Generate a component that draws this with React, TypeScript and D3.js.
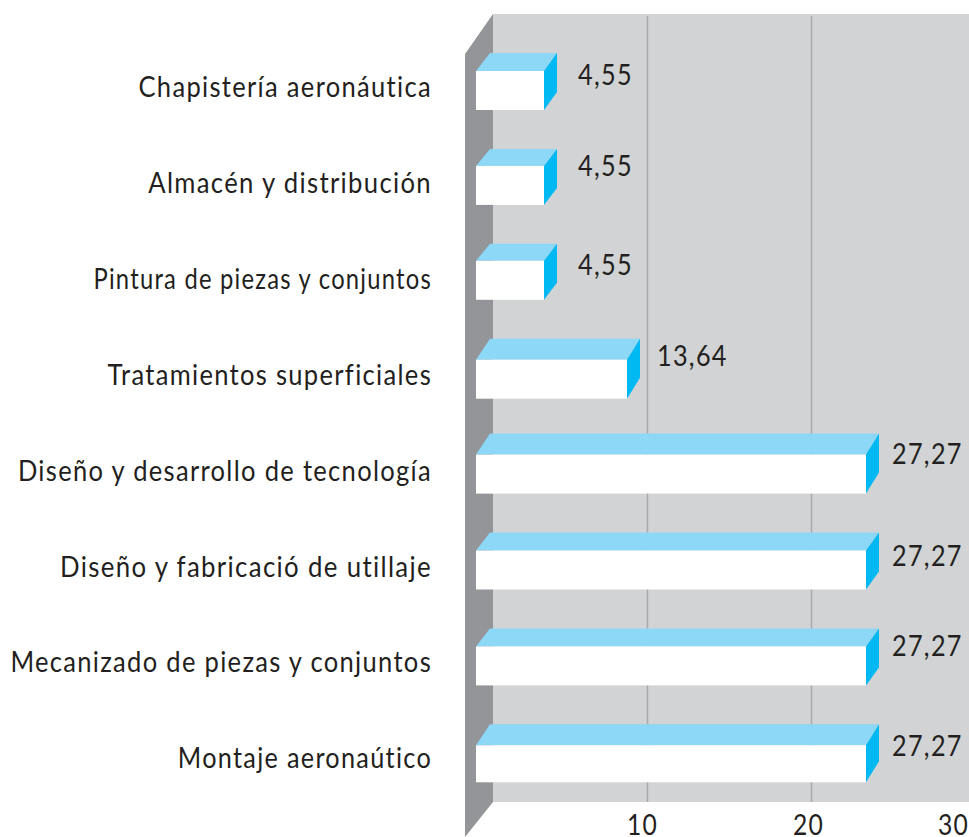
import React, { useRef, useEffect } from 'react';
import * as d3 from 'd3';

const categories = [
  'Chapistería aeronáutica',
  'Almacén y distribución',
  'Pintura de piezas y conjuntos',
  'Tratamientos superficiales',
  'Diseño y desarrollo de tecnología',
  'Diseño y fabricació de utillaje',
  'Mecanizado de piezas y conjuntos',
  'Montaje aeronaútico',
];
const values = [4.55, 4.55, 4.55, 13.64, 27.27, 27.27, 27.27, 27.27];
const axisTicks = [10, 20, 30];

const FONT = 'Lato, sans-serif';
const TEXT = '#231f20';

// hand-drawn look of the original: bars are not quite even
const topDepth = [18, 17, 17, 21, 21, 18, 18, 21];
const frontHeight = [39, 39, 39, 39, 39, 39, 39, 37];
const yNudge = [0, 0, -1, -2, -3, 0, 0, 0];
const valueBaseline = [85, 176, 275, 366, 464, 566, 656, 756];
const valueGap = [34, 34, 34, 30, 26, 26, 26, 26];
const tickNudge = [-5, -3, -22];
// no condensed face is installed, so the labels are squeezed sideways
const labelSqueeze = [0.88, 0.885, 0.82, 0.88, 0.88, 0.89, 0.88, 0.87];

function App() {
  const chartRef = useRef<SVGSVGElement>(null);

  useEffect(() => {
    const svg = d3.select(chartRef.current);
    svg.selectAll('*').remove();

    const wallLeft = 465, wallRight = 493, top = 14, floor = 802;

    // gridlines follow this axis scale
    const x = d3.scaleLinear().domain([0, 30]).range([483, 975]);
    // the bars in the source are not proportional to their labels or the axis,
    // so their length goes through a piecewise scale
    const barX = d3.scaleLinear().domain([0, 4.55, 13.64, 27.27]).range([476, 544, 627, 866]);
    const y = d3.scaleBand<string>().domain(categories).range([53, 53 + 95.9 * 8]).paddingInner(0);

    // back wall and side wall
    svg.append('rect')
      .attr('x', wallRight).attr('y', top)
      .attr('width', 969 - wallRight).attr('height', floor - top)
      .attr('fill', '#d1d3d4');
    svg.append('polygon')
      .attr('points', `${wallLeft},54 ${wallRight},${top} ${wallRight},${floor} ${wallLeft},837`)
      .attr('fill', '#939598');

    // grid, from the axis
    const axis = d3.axisBottom(x).tickValues(axisTicks).tickSize(floor - top - 2).tickPadding(0);
    const axisG = svg.append('g').attr('transform', `translate(0,${top + 2})`).call(axis);
    axisG.select('.domain').remove();
    axisG.selectAll('.tick line').attr('stroke', '#a7a9ac').attr('stroke-width', 1.5);
    axisG.selectAll('.tick').filter(d => d === 30).select('line').remove();
    axisG.selectAll('.tick text')
      .attr('fill', TEXT)
      .attr('font-family', FONT)
      .attr('font-size', 29)
      .attr('letter-spacing', 1.5)
      .attr('dy', 0)
      .attr('y', 0)
      .attr('transform', (_, i) => `translate(${tickNudge[i]},${835 - top - 2}) scale(0.85,1)`);

    // bars
    const bars = svg.selectAll('.bar')
      .data(categories)
      .enter().append('g')
      .attr('class', 'bar');

    const barTop = i => y(categories[i]) + yNudge[i];

    bars.append('polygon')
      .attr('fill', '#8dd7f7')
      .attr('points', (_, i) => {
        const t = barTop(i), f = t + topDepth[i], r = barX(values[i]);
        return `${barX(0)},${f} ${barX(0) + 14},${t} ${r + 13},${t} ${r},${f}`;
      });
    bars.append('polygon')
      .attr('fill', '#00b9f2')
      .attr('points', (_, i) => {
        const t = barTop(i), f = t + topDepth[i], r = barX(values[i]), b = f + frontHeight[i];
        return `${r},${f} ${r + 13},${t} ${r + 13},${b - topDepth[i]} ${r},${b}`;
      });
    bars.append('rect')
      .attr('fill', '#fff')
      .attr('x', barX(0))
      .attr('y', (_, i) => barTop(i) + topDepth[i])
      .attr('width', (_, i) => barX(values[i]) - barX(0))
      .attr('height', (_, i) => frontHeight[i]);

    // value labels
    bars.append('text')
      .attr('transform', (_, i) => `translate(${barX(values[i]) + valueGap[i]},${valueBaseline[i]}) scale(0.87,1)`)
      .attr('fill', TEXT)
      .attr('font-family', FONT)
      .attr('font-size', 29)
      .attr('letter-spacing', 1.5)
      .text((_, i) => values[i].toFixed(2).replace('.', ','));

    // category labels
    bars.append('text')
      .attr('transform', (d, i) => `translate(432,${y(d) + 44}) scale(${labelSqueeze[i]},1)`)
      .attr('text-anchor', 'end')
      .attr('fill', TEXT)
      .attr('font-family', FONT)
      .attr('font-size', 29)
      .attr('letter-spacing', 1.5)
      .text(d => d);
  }, []);

  return (
    <svg
      ref={chartRef}
      width={969}
      height={837}
      style={{ position: 'absolute', left: 0, top: 0, background: '#fff' }}
    />
  );
}

export default App;
